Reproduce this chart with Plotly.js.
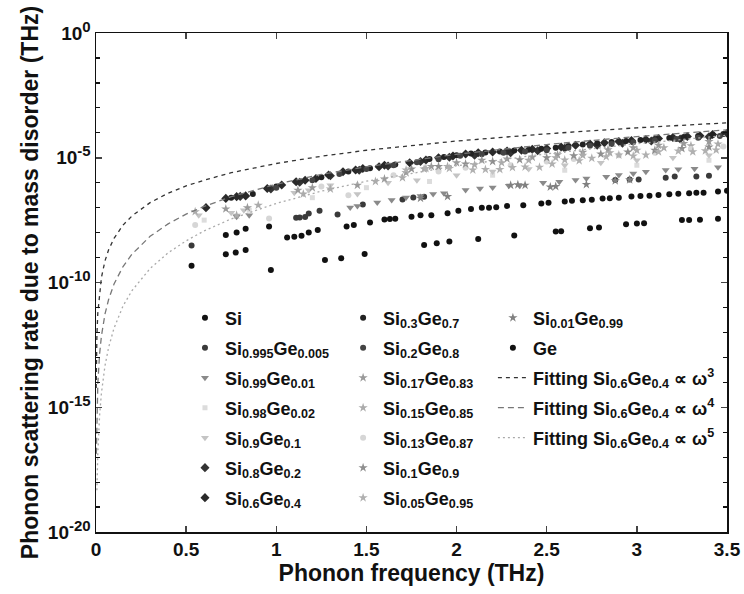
<!DOCTYPE html>
<html><head><meta charset="utf-8">
<script src="https://cdn.plot.ly/plotly-3.0.1.min.js"></script>
<style>html,body{margin:0;padding:0;background:#fff}#chart{width:744px;height:594px}</style>
</head><body><div id="chart"></div>
<script>
// ---- data (frequency in THz, log10 of scattering rate in THz) ----
const nameSi = "Si";
const fSi = [0.53,0.72,0.775,0.83,0.97,1.27,1.36,1.49,1.82,1.89,1.96,2.12,2.32,2.55,2.58,2.74,2.79,2.94,3.0,3.04,3.25,3.29,3.35,3.45];
const eSi = [-9.33,-8.87,-8.8,-8.7,-9.5,-9.1,-9.03,-8.86,-8.5,-8.43,-8.36,-8.26,-8.12,-7.96,-7.95,-7.83,-7.8,-7.67,-7.64,-7.63,-7.5,-7.5,-7.48,-7.44];

const nameS995 = "Si<sub>0.995</sub>Ge<sub>0.005</sub>";
const fS995 = [0.53,1.11,1.13,1.16,1.18,1.24,1.34,1.48,1.7,1.76,1.82,2.88,2.96,3.01,3.16,3.21,3.33,3.4];
const eS995 = [-8.52,-7.4,-7.39,-7.37,-7.23,-7.12,-7.27,-6.87,-6.67,-6.59,-6.56,-5.89,-5.87,-5.87,-5.8,-5.75,-5.75,-5.72];

const nameS99 = "Si<sub>0.99</sub>Ge<sub>0.01</sub>";
const fS99 = [0.78,0.85,1.41,1.45,1.56,1.64,1.72,1.8,1.87,1.93,2.05,2.13,2.2,2.29,2.35,2.48,2.57,2.66,2.72,2.83,2.9,2.98,3.05,3.16,3.23,3.32,3.45];
const eS99 = [-7.36,-7.3,-6.99,-6.93,-6.79,-6.69,-6.59,-6.53,-6.45,-6.42,-6.29,-6.23,-6.19,-6.12,-6.12,-6.0,-5.96,-5.89,-5.83,-5.76,-5.69,-5.63,-5.56,-5.49,-5.46,-5.44,-5.38];

const nameS98 = "Si<sub>0.98</sub>Ge<sub>0.02</sub>";
const fS98 = [0.6,0.85,1.2,1.5,1.85,2.2,2.6,3.0,3.4];
const eS98 = [-7.5,-7.1,-6.6,-6.2,-5.95,-5.7,-5.5,-5.3,-5.1];

const nameS90 = "Si<sub>0.9</sub>Ge<sub>0.1</sub>";
const fS90 = [0.57,0.75,0.82,1.1,1.18,1.3,1.45,1.62,1.78,2.0,2.2,2.4,2.6,2.8,3.0,3.2,3.4];
const eS90 = [-7.3,-7.2,-7.1,-6.4,-6.3,-6.1,-6.45,-6.0,-5.9,-5.7,-5.55,-5.45,-5.3,-5.2,-5.1,-5.0,-4.9];

const nameS80 = "Si<sub>0.8</sub>Ge<sub>0.2</sub>";
const fS80 = [0.8,0.97,1.13,1.3,1.46,1.62,1.8,1.96,2.1,2.3,2.45,2.6,2.78,2.92,3.08,3.24,3.4];
const eS80 = [-6.55,-6.25,-5.98,-5.72,-5.5,-5.33,-5.15,-4.98,-4.9,-4.8,-4.72,-4.62,-4.5,-4.42,-4.33,-4.25,-4.16];

const nameS60 = "Si<sub>0.6</sub>Ge<sub>0.4</sub>";
const fS60 = [0.61,0.72,0.78,0.83,0.95,1.03,1.11,1.16,1.22,1.29,1.37,1.44,1.48,1.57,1.6,1.74,1.83,1.9,1.98,2.05,2.12,2.2,2.28,2.36,2.42,2.5,2.58,2.66,2.74,2.82,2.9,2.97,3.05,3.12,3.2,3.28,3.35,3.42,3.5];
const eS60 = [-7.0,-6.63,-6.56,-6.53,-6.23,-6.09,-5.96,-5.9,-5.83,-5.69,-5.56,-5.49,-5.43,-5.36,-5.3,-5.2,-5.09,-5.0,-4.93,-4.85,-4.8,-4.77,-4.73,-4.7,-4.66,-4.63,-4.57,-4.5,-4.45,-4.4,-4.35,-4.31,-4.27,-4.23,-4.19,-4.15,-4.12,-4.07,-4.02];

const nameS30 = "Si<sub>0.3</sub>Ge<sub>0.7</sub>";
const fS30 = [0.75,0.87,1.0,1.25,1.4,1.52,1.66,1.85,1.93,2.0,2.08,2.16,2.24,2.32,2.4,2.47,2.55,2.62,2.7,2.78,2.86,2.94,3.02,3.1,3.18,3.26,3.34,3.42,3.48];
const eS30 = [-6.6,-6.45,-6.15,-5.78,-5.55,-5.42,-5.27,-5.05,-4.97,-4.9,-4.83,-4.79,-4.75,-4.71,-4.68,-4.64,-4.6,-4.53,-4.47,-4.42,-4.37,-4.33,-4.29,-4.25,-4.21,-4.17,-4.13,-4.09,-4.05];

const nameS20 = "Si<sub>0.2</sub>Ge<sub>0.8</sub>";
const fS20 = [1.0,1.2,1.35,1.5,1.65,1.78,1.9,2.02,2.14,2.26,2.38,2.5,2.62,2.74,2.86,2.98,3.1,3.22,3.34,3.46];
const eS20 = [-6.2,-5.9,-5.65,-5.45,-5.3,-5.18,-5.06,-4.92,-4.86,-4.8,-4.75,-4.7,-4.6,-4.52,-4.45,-4.38,-4.3,-4.25,-4.2,-4.13];

const nameS17 = "Si<sub>0.17</sub>Ge<sub>0.83</sub>";
const fS17 = [0.72,0.84,1.12,1.2,1.45,1.6,1.72,1.86,2.0,2.14,2.28,2.42,2.56,2.7,2.84,2.98,3.12,3.26,3.4];
const eS17 = [-7.05,-7.0,-6.3,-6.2,-6.1,-5.85,-5.6,-5.35,-5.2,-5.1,-5.05,-4.98,-4.88,-4.78,-4.68,-4.6,-4.5,-4.43,-4.35];

const nameS15 = "Si<sub>0.15</sub>Ge<sub>0.85</sub>";
const fS15 = [0.55,0.78,0.9,1.15,1.3,1.55,1.7,1.82,1.95,2.1,2.25,2.4,2.55,2.7,2.85,3.0,3.15,3.3,3.45];
const eS15 = [-7.16,-7.3,-6.9,-6.45,-6.25,-5.95,-5.8,-5.45,-5.35,-5.28,-5.2,-5.1,-5.0,-4.9,-4.8,-4.7,-4.6,-4.52,-4.45];

const nameS13 = "Si<sub>0.13</sub>Ge<sub>0.87</sub>";
const fS13 = [0.55,0.96,1.25,1.4,1.65,1.9,2.05,2.3,2.5,2.65,2.9,3.1,3.3,3.48];
const eS13 = [-7.7,-7.43,-6.15,-6.5,-5.7,-5.55,-5.4,-5.3,-5.15,-5.05,-4.9,-4.8,-4.65,-4.55];

const nameS10 = "Si<sub>0.1</sub>Ge<sub>0.9</sub>";
const fS10 = [1.75,1.9,2.05,2.2,2.35,2.5,2.65,2.8,2.95,3.1,3.25,3.4];
const eS10 = [-5.45,-5.35,-5.25,-5.15,-5.08,-5.0,-4.92,-4.85,-4.77,-4.7,-4.63,-4.57];

const nameS05 = "Si<sub>0.05</sub>Ge<sub>0.95</sub>";
const fS05 = [1.72,1.83,1.96,2.09,2.16,2.24,2.31,2.38,2.46,2.53,2.6,2.68,2.75,2.83,2.9,2.98,3.05,3.12,3.23,3.31,3.38,3.44];
const eS05 = [-5.49,-5.43,-5.43,-5.49,-5.47,-5.47,-5.39,-5.37,-5.38,-5.25,-5.09,-5.12,-5.02,-4.96,-4.89,-4.93,-4.89,-4.76,-4.73,-4.76,-4.72,-4.69];

const nameS01 = "Si<sub>0.01</sub>Ge<sub>0.99</sub>";
const fS01 = [1.8,1.95,2.3,2.34,2.38,2.52,2.55,2.72,2.88,2.96];
const eS01 = [-6.62,-6.55,-6.1,-6.08,-6.1,-6.17,-6.15,-6.07,-5.92,-5.88];

const nameGe = "Ge";
const fGe = [0.72,0.78,0.83,0.96,1.06,1.1,1.14,1.18,1.23,1.39,1.43,1.52,1.6,1.63,1.66,1.75,1.8,1.86,1.95,2.01,2.08,2.14,2.18,2.22,2.28,2.37,2.47,2.51,2.6,2.64,2.7,2.75,2.81,2.85,2.9,2.97,3.02,3.07,3.12,3.18,3.23,3.29,3.33,3.37,3.45,3.5];
const eGe = [-8.1,-8.0,-7.85,-7.76,-8.2,-8.17,-8.13,-8.0,-7.9,-7.76,-7.7,-7.6,-7.47,-7.45,-7.44,-7.36,-7.3,-7.3,-7.22,-7.12,-7.05,-7.0,-7.0,-6.98,-6.93,-6.9,-6.83,-6.8,-6.75,-6.72,-6.7,-6.68,-6.63,-6.62,-6.6,-6.55,-6.53,-6.52,-6.49,-6.46,-6.44,-6.42,-6.4,-6.4,-6.35,-6.32];

// fitted curves
const nameFit3 = "Fitting Si<sub>0.6</sub>Ge<sub>0.4</sub> ∝ ω<sup>3</sup>";
const fFit3 = [0.001,0.002,0.005,0.01,0.02,0.03,0.05,0.07,0.1,0.15,0.2,0.3,0.4,0.5,0.6,0.75,1,1.25,1.5,2,2.5,3,3.5];
const eFit3 = [-14.23,-13.33,-12.13,-11.23,-10.33,-9.80,-9.13,-8.69,-8.23,-7.70,-7.33,-6.80,-6.42,-6.13,-5.90,-5.60,-5.23,-4.94,-4.70,-4.33,-4.04,-3.80,-3.60];
const nameFit4 = "Fitting Si<sub>0.6</sub>Ge<sub>0.4</sub> ∝ ω<sup>4</sup>";
const fFit4 = [0.002,0.005,0.01,0.02,0.03,0.05,0.07,0.1,0.15,0.2,0.3,0.4,0.5,0.6,0.75,1,1.25,1.5,2,2.5,3,3.5];
const eFit4 = [-16.86,-15.26,-14.06,-12.86,-12.15,-11.26,-10.68,-10.06,-9.36,-8.86,-8.15,-7.65,-7.26,-6.95,-6.56,-6.06,-5.67,-5.36,-4.86,-4.47,-4.15,-3.88];
const nameFit5 = "Fitting Si<sub>0.6</sub>Ge<sub>0.4</sub> ∝ ω<sup>5</sup>";
const fFit5 = [0.005,0.01,0.02,0.03,0.05,0.07,0.1,0.15,0.2,0.3,0.4,0.5,0.6,0.75,1,1.25,1.5,2,2.5,3,3.5];
const eFit5 = [-18.33,-16.83,-15.32,-14.44,-13.33,-12.60,-11.83,-10.94,-10.32,-9.44,-8.81,-8.33,-7.93,-7.45,-6.83,-6.34,-5.94,-5.32,-4.84,-4.44,-4.10];

const xTickVals = [0,0.5,1,1.5,2,2.5,3,3.5];
const yTickExps = [-20,-15,-10,-5,0];
const yTickSup = ["-20","-15","-10","-5","0"];

// ---- build ----
const toVal = e => e.map(v => Math.pow(10, v));
const yTickText = yTickSup.map(s => '10<sup><span style="font-size:15px">' + s + '</span></sup>');
function pts(name, f, e, color, symbol, legend, size) {
  return {type:'scatter', mode:'markers', name:name, x:f, y:toVal(e), legend:legend,
    legendgroup:name, marker:{color:color, symbol:symbol, size:size||6, line:{width:0}}};
}
function fit(name, f, e, color, dash, width) {
  return {type:'scatter', mode:'lines', name:name, x:f, y:toVal(e), legend:'legend3',
    legendgroup:name, line:{color:color, dash:dash, width:width}};
}
const traces = [
  pts(nameSi, fSi, eSi, '#111', 'circle', 'legend'),
  pts(nameS995, fS995, eS995, '#3a3a3a', 'circle', 'legend'),
  pts(nameS99, fS99, eS99, '#8a8a8a', 'triangle-down', 'legend', 7),
  pts(nameS98, fS98, eS98, '#dcdcdc', 'square', 'legend', 5),
  pts(nameS90, fS90, eS90, '#c4c4c4', 'triangle-down', 'legend', 7),
  pts(nameS80, fS80, eS80, '#333', 'diamond', 'legend', 7),
  pts(nameS60, fS60, eS60, '#2a2a2a', 'diamond', 'legend', 7),
  pts(nameS30, fS30, eS30, '#222', 'circle', 'legend2'),
  pts(nameS20, fS20, eS20, '#444', 'circle', 'legend2'),
  pts(nameS17, fS17, eS17, '#9a9a9a', 'star', 'legend2', 7),
  pts(nameS15, fS15, eS15, '#ababab', 'star', 'legend2', 7),
  pts(nameS13, fS13, eS13, '#d6d6d6', 'circle', 'legend2'),
  pts(nameS10, fS10, eS10, '#8f8f8f', 'star', 'legend2', 7),
  pts(nameS05, fS05, eS05, '#b0b0b0', 'star', 'legend2', 7),
  pts(nameS01, fS01, eS01, '#808080', 'star', 'legend3', 7),
  pts(nameGe, fGe, eGe, '#111', 'circle', 'legend3'),
  fit(nameFit3, fFit3, eFit3, '#333', '4px,4px', 1.3),
  fit(nameFit4, fFit4, eFit4, '#777', '6px,4px', 1.3),
  fit(nameFit5, fFit5, eFit5, '#aaa', '2px,3px', 1.3)
];

const minorVals = [];
for (let k = -19; k <= -1; k++) { if (k % 5 !== 0) minorVals.push(Math.pow(10, k)); }

const FONT = 'Liberation Sans, Arial, Helvetica, sans-serif';
const legendBase = {xanchor:'left', yanchor:'top', bgcolor:'rgba(0,0,0,0)', borderwidth:0,
  font:{family:FONT, size:18, color:'#111', weight:'bold'}, tracegroupgap:3.6, itemwidth:30, orientation:'v'};

const layout = {
  width:744, height:594,
  margin:{l:96, r:17, t:33, b:62},
  paper_bgcolor:'#fff', plot_bgcolor:'#fff',
  font:{family:FONT, color:'#111', weight:'bold'},
  showlegend:true,
  xaxis:{range:[0,3.5], tickmode:'array', tickvals:xTickVals, ticks:'inside', ticklen:6, tickwidth:1.5,
    showline:true, linecolor:'#111', linewidth:1.5, mirror:'ticks', showgrid:false, zeroline:false,
    tickfont:{size:19, family:FONT, weight:'bold'},
    title:{text:'Phonon frequency (THz)', font:{size:23, family:FONT, weight:'bold'}, standoff:3}},
  yaxis:{type:'log', range:[-20,0], tickmode:'array', tickvals:toVal(yTickExps), ticktext:yTickText,
    ticks:'inside', ticklen:6, tickwidth:1.5, showline:true, linecolor:'#111', linewidth:1.5, mirror:'ticks',
    showgrid:false, zeroline:false,
    minor:{tickmode:'array', tickvals:minorVals, ticks:'inside', ticklen:4, tickwidth:1.2, tickcolor:'#111', showgrid:false},
    tickfont:{size:19, family:FONT, weight:'bold'},
    title:{text:'Phonon scattering rate due to mass disorder (THz)', font:{size:23, family:FONT, weight:'bold'}, standoff:3}},
  legend: Object.assign({}, legendBase, {x:0.141, y:0.466}),
  legend2: Object.assign({}, legendBase, {x:0.3916, y:0.466}),
  legend3: Object.assign({}, legendBase, {x:0.629, y:0.466})
};

Plotly.newPlot('chart', traces, layout, {displayModeBar:false, staticPlot:true});
</script>
</body></html>
